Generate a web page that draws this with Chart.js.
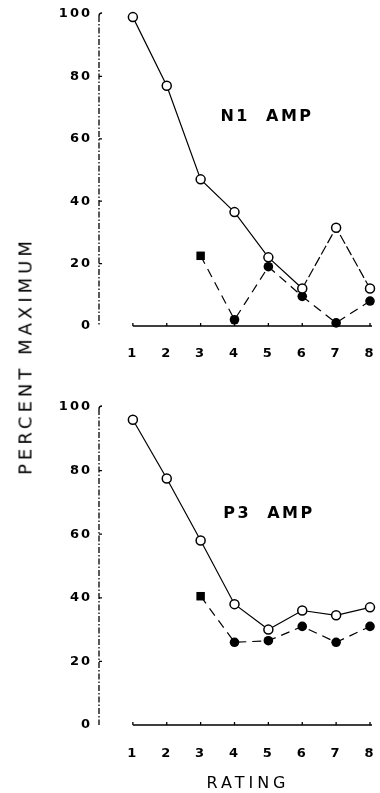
<!DOCTYPE html>
<html>
<head>
<meta charset="utf-8">
<script src="https://cdn.jsdelivr.net/npm/chart.js@4.4.1/dist/chart.umd.min.js"></script>
<style>
  html, body { margin: 0; padding: 0; background: #fff; }
  #wrap { position: relative; width: 380px; height: 793px; overflow: hidden; font-family: "DejaVu Sans", sans-serif; color: #000; }
  canvas { position: absolute; left: 0; }
  #topBox { position: absolute; left: 0; top: 0; width: 380px; height: 370px; }
  #botBox { position: absolute; left: 0; top: 393px; width: 380px; height: 400px; }
  .lbl { position: absolute; white-space: nowrap; font-weight: bold; }
  #yTitle { left: 25px; top: 356px; font-size: 18px; letter-spacing: 4px; transform: translate(-50%, -50%) rotate(-90deg); font-weight: normal; }
  #xTitle { left: 248px; top: 782px; font-size: 16px; letter-spacing: 4px; transform: translate(-50%, -50%); font-weight: normal; }
  #n1 { left: 267px; top: 115px; font-size: 16px; letter-spacing: 2.5px; word-spacing: 8px; transform: translate(-50%, -50%); }
  #p3 { left: 269px; top: 512px; font-size: 16px; letter-spacing: 2.5px; word-spacing: 8px; transform: translate(-50%, -50%); }
</style>
</head>
<body>
<div id="wrap">
  <div id="topBox"><canvas id="topChart"></canvas></div>
  <div id="botBox"><canvas id="botChart"></canvas></div>
  <div class="lbl" id="yTitle">PERCENT MAXIMUM</div>
  <div class="lbl" id="xTitle">RATING</div>
  <div class="lbl" id="n1">N1 AMP</div>
  <div class="lbl" id="p3">P3 AMP</div>
</div>
<script>
// Ratings on the x axis and percent-maximum values
const ratings = [1, 2, 3, 4, 5, 6, 7, 8];
const yTicks = [0, 20, 40, 60, 80, 100];

const n1Open = [99, 77, 47, 36.5, 22, 12, 31.5, 12];
const n1Filled = [null, null, 22.5, 2, 19, 9.5, 1, 8];

const p3Open = [96, 77.5, 58, 38, 30, 36, 34.5, 37];
const p3Filled = [null, null, 40.5, 26, 26.5, 31, 26, 31];

function toPoints(values) {
  return ratings.map((r, i) => ({ x: r, y: values[i] }));
}

function firstStyles(values) {
  const first = values.findIndex(v => v !== null);
  return values.map((v, i) => (i === first ? "rect" : "circle"));
}

// dash-dot y axis, x axis line between rating 1 and 8, small tick marks
const axisMarks = {
  id: "axisMarks",
  beforeDraw(chart) {
    chart.ctx.letterSpacing = "2px";
  },
  afterDraw(chart) {
    const ctx = chart.ctx;
    const x = chart.scales.x;
    const y = chart.scales.y;
    const y0 = y.getPixelForValue(0);
    const yTop = y.getPixelForValue(100);
    const ax = y.right;
    ctx.save();
    ctx.letterSpacing = "0px";
    ctx.strokeStyle = "#000";
    ctx.lineWidth = 1.3;
    ctx.setLineDash([6, 2, 1.5, 2]);
    ctx.beginPath();
    ctx.moveTo(ax, yTop + 2);
    ctx.lineTo(ax, y0);
    ctx.stroke();
    ctx.setLineDash([]);
    ctx.beginPath();
    ctx.moveTo(ax, yTop + 2);
    ctx.quadraticCurveTo(ax, yTop - 1, ax + 3, yTop - 1);
    ctx.moveTo(x.getPixelForValue(ratings[0]), y0);
    ctx.lineTo(x.getPixelForValue(ratings[ratings.length - 1]) + 2, y0);
    ratings.forEach(r => {
      const px = x.getPixelForValue(r);
      ctx.moveTo(px, y0);
      ctx.lineTo(px, y0 - 3);
    });
    yTicks.forEach(t => {
      if (t === 0 || t === 100) return;
      const py = y.getPixelForValue(t);
      ctx.moveTo(ax, py);
      ctx.lineTo(ax + 3, py);
    });
    ctx.stroke();
    ctx.restore();
  }
};

function makeChart(id, openVals, filledVals, xHeight, xPad, dashTail) {
  const ctx = document.getElementById(id).getContext("2d");
  return new Chart(ctx, {
    type: "line",
    data: {
      datasets: [
        {
          data: toPoints(openVals),
          borderColor: "#000",
          borderWidth: 1.2,
          pointStyle: "circle",
          pointRadius: 4.5,
          pointBorderWidth: 1.5,
          pointBackgroundColor: "#fff",
          pointBorderColor: "#000",
          segment: {
            borderDash: c => (dashTail && c.p0DataIndex >= 5 ? [10, 3] : undefined)
          }
        },
        {
          data: toPoints(filledVals),
          borderColor: "#000",
          borderWidth: 1.2,
          borderDash: [9, 6],
          pointStyle: firstStyles(filledVals),
          pointRadius: filledVals.map((v, i) => (i === 2 ? 6 : 4.8)),
          pointBorderWidth: 0,
          pointBackgroundColor: "#000",
          pointBorderColor: "#000"
        }
      ]
    },
    options: {
      responsive: true,
      maintainAspectRatio: false,
      animation: false,
      clip: false,
      layout: { autoPadding: false, padding: { top: 14, right: 10, left: 0, bottom: 0 } },
      plugins: { legend: { display: false }, tooltip: { enabled: false } },
      scales: {
        x: {
          type: "linear",
          min: 0,
          max: 8,
          afterFit: s => { s.height = xHeight; s.paddingRight = 0; },
          afterBuildTicks: s => { s.ticks = ratings.map(v => ({ value: v })); },
          grid: { display: false, drawTicks: false },
          border: { display: false },
          ticks: {
            color: "#000",
            padding: xPad,
            font: { family: "DejaVu Sans", size: 13, weight: "bold" }
          }
        },
        y: {
          min: 0,
          max: 100,
          afterFit: s => { s.width = 99; s.paddingTop = 0; s.paddingBottom = 0; },
          afterBuildTicks: s => { s.ticks = yTicks.map(v => ({ value: v })); },
          grid: { display: false, drawTicks: false },
          border: { display: false },
          ticks: {
            color: "#000",
            padding: 7,
            font: { family: "DejaVu Sans", size: 13, weight: "bold" }
          }
        }
      }
    },
    plugins: [axisMarks]
  });
}

makeChart("topChart", n1Open, n1Filled, 44, 20, true);
makeChart("botChart", p3Open, p3Filled, 68, 21, false);
</script>
</body>
</html>
